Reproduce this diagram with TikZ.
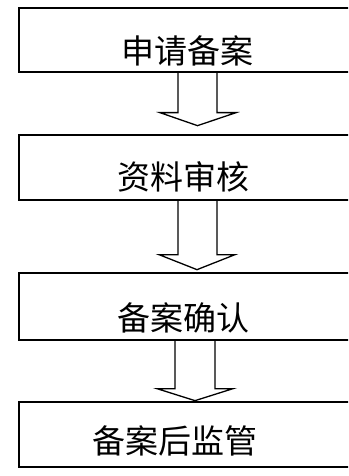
\documentclass[tikz,border=0pt]{standalone}
\usepackage{fontspec}
\newfontfamily\cjk{Noto Sans CJK SC}
\usetikzlibrary{calc}
\begin{document}
\begin{tikzpicture}[x=1pt,y=-1pt,
  box/.style={draw, line width=1.3pt, minimum width=336pt, inner sep=0pt},
  lbl/.style={font=\cjk\fontsize{33}{33}\selectfont, inner sep=0pt},
  arr/.style={draw, line width=1.3pt, line join=miter}]
\useasboundingbox (0,0) rectangle (348,476);
\fill[white] (0,0) rectangle (348,476);
\clip (0,0) rectangle (348,476);
\node[box, minimum height=64pt] (b1) at (187,40) {};
\node[box, minimum height=65pt] (b2) at (187,167.5) {};
\node[box, minimum height=67pt] (b3) at (187,306.5) {};
\node[box, minimum height=65pt] (b4) at (187,434.5) {};
\node[lbl] (t1) at (187,51) {申请备案};
\node[lbl] (t2) at (183,177) {资料审核};
\node[lbl] (t3) at (183,318) {备案确认};
\node[lbl] (t4) at (175,441) {备案后监管};
% arrows
\draw[arr] ($(b1.south)+(-9,0)$) -- ++(0,40) -- ++(-18,0) -- ++(37.5,13) -- ++(38.5,-13) -- ++(-19,0) -- ++(0,-40);
\draw[arr] ($(b2.south)+(-9,0)$) -- ++(0,54) -- ++(-19,0) -- ++(38,15) -- ++(38,-15) -- ++(-18,0) -- ++(0,-54);
\draw[arr] ($(b3.south)+(-12,0)$) -- ++(0,48) -- ++(-18,0) -- ++(38,12) -- ++(38,-12) -- ++(-18,0) -- ++(0,-48);
\end{tikzpicture}
\end{document}
